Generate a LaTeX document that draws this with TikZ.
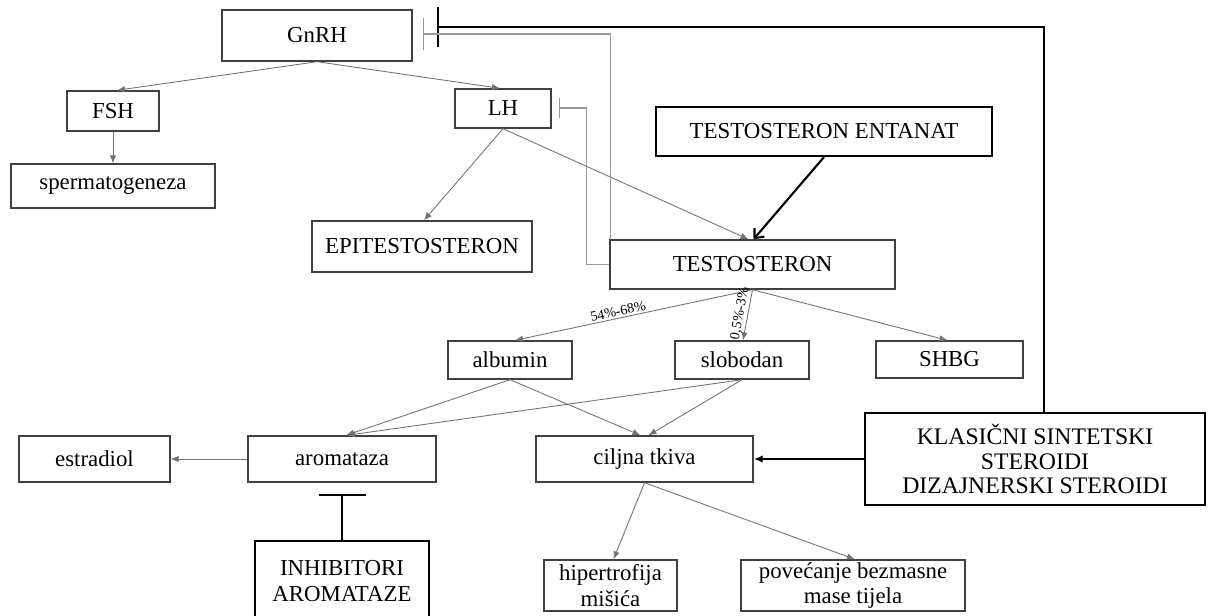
\documentclass[tikz,border=0pt]{standalone}
\usepackage{fontspec}
\setmainfont{Liberation Serif}
\usetikzlibrary{arrows.meta,calc}
\tikzset{
  box/.style={draw=black!75, line width=0.8pt, inner sep=0pt, align=center,
    font=\fontsize{13}{14.5}\selectfont},
  boldbox/.style={box, draw=black, line width=1.2pt},
  link/.style={draw=black!55, line width=0.5pt, -{Latex[length=1.6mm,width=1.3mm]}},
  boldlink/.style={draw=black, line width=1.2pt, -{Latex[length=1.8mm,width=1.5mm]}},
  openlink/.style={draw=black, line width=1.2pt, -{Straight Barb[length=1.5mm,width=2.6mm]}},
  stopthin/.style={draw=black!40, line width=0.6pt, -{Bar[width=#1]}},
  stopthick/.style={draw=black, line width=1.2pt, -{Bar[width=#1]}},
  pct/.style={font=\fontsize{8}{9}\selectfont, inner sep=1pt}
}
\begin{document}
\begin{tikzpicture}[x=0.02cm, y=-0.02cm]
  \useasboundingbox (0,0) rectangle (1212,615);
  %%%%% hormones %%%%%
  \node[box, minimum width=3.8cm, minimum height=1.02cm] (gnrh) at (317,35.5) {GnRH};
  \node[box, minimum width=1.84cm, minimum height=0.8cm] (fsh) at (113,111) {FSH};
  \node[box, minimum width=4.08cm, minimum height=0.88cm] (sperm) at (113,186) {spermatogeneza};
  \node[box, minimum width=1.92cm, minimum height=0.78cm] (lh) at (503,108.5) {LH};
  \node[box, minimum width=4.4cm, minimum height=1.02cm] (epi) at (422,246.5) {EPITESTOSTERON};
  \node[box, minimum width=5.7cm, minimum height=0.98cm] (test) at (752.5,264.5) {TESTOSTERON};
  \node[boldbox, minimum width=6.72cm, minimum height=0.98cm] (entanat) at (824,131.5) {TESTOSTERON ENTANAT};
  %%%%% transport %%%%%
  \node[box, minimum width=2.48cm, minimum height=0.76cm] (albumin) at (510,360) {albumin};
  \node[box, minimum width=2.68cm, minimum height=0.76cm] (slobodan) at (742,360) {slobodan};
  \node[box, minimum width=2.94cm, minimum height=0.74cm] (shbg) at (949.5,359.5) {SHBG};
  %%%%% targets %%%%%
  \node[box, minimum width=3.02cm, minimum height=0.92cm] (estradiol) at (94.5,459) {estradiol};
  \node[box, minimum width=3.76cm, minimum height=0.92cm] (aroma) at (342,459) {aromataza};
  \node[box, minimum width=4.34cm, minimum height=0.92cm] (ciljna) at (644.5,459) {ciljna tkiva};
  \node[boldbox, minimum width=6.8cm, minimum height=1.84cm, font=\fontsize{13.5}{14}\selectfont] (klasicni) at (1035,459)
    {KLASIČNI SINTETSKI\\STEROIDI\\DIZAJNERSKI STEROIDI};
  \node[boldbox, minimum width=3.48cm, minimum height=1.6cm] (inhib) at (342,581) {INHIBITORI\\AROMATAZE};
  \node[box, minimum width=2.66cm, minimum height=1.02cm] (hiper) at (610.5,585.5) {hipertrofija\\mišića};
  \node[box, minimum width=4.48cm, minimum height=1.02cm] (pov) at (853,585.5) {povećanje bezmasne\\mase tijela};
  %%%%% stop points %%%%%
  \coordinate (gnrhstopA) at (437,27);
  \coordinate (gnrhstopB) at (423,34);
  \coordinate (lhstop) at (559,108);
  \coordinate (aromastop) at (342,494);
  %%%%% connectors %%%%%
  \draw[link] (gnrh.south) -- ($(fsh.north)+(4,0)$);
  \draw[link] (gnrh.south) -- ($(lh.north)+(-3,0)$);
  \draw[link] (fsh.south) -- (sperm.north);
  \draw[link] (lh.south) -- ($(epi.north)+(2,0)$);
  \draw[link] (lh.south) -- ($(test.north)+(-4,0)$);
  \draw[openlink] (entanat.south) -- ($(test.north)+(1,0)$);
  \draw[link] (test.south) -- node[pct, sloped, above, pos=0.56] {54\%-68\%} ($(albumin.north)+(5,0)$);
  \draw[link] (test.south) -- node[pct, sloped, above, pos=0.5] {0,5\%-3\%} ($(slobodan.north)+(1,0)$);
  \draw[link] (test.south) -- ($(shbg.north)+(-2,0)$);
  \draw[link] (albumin.south) -- ($(aroma.north)+(4,0)$);
  \draw[link] (slobodan.south) -- ($(aroma.north)+(5,0)$);
  \draw[link] (albumin.south) -- ($(ciljna.north)+(-4,0)$);
  \draw[link] (slobodan.south) -- ($(ciljna.north)+(4,0)$);
  \draw[link] (aroma.west) -- (estradiol.east);
  \draw[link] (ciljna.south) -- ($(hiper.north)+(3,0)$);
  \draw[link] (ciljna.south) -- ($(pov.north)+(2,0)$);
  \draw[boldlink] (klasicni.west) -- (ciljna.east);
  %%%%% feedback %%%%%
  \draw[stopthick=0.8cm] ($(klasicni.north)+(9,0)$) |- (gnrhstopA);
  \draw[stopthin=0.66cm] ($(test.north west)+(1,0)$) |- (gnrhstopB);
  \draw[stopthin=0.42cm] (test.west) -- ++(-23,0) |- (lhstop);
  \draw[stopthick=0.94cm] (inhib.north) -- (aromastop);
\end{tikzpicture}
\end{document}
